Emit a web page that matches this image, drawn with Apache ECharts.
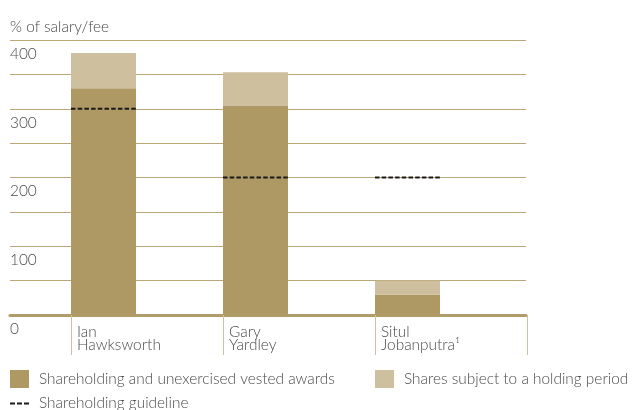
<!DOCTYPE html>
<html>
<head>
<meta charset="utf-8">
<script src="https://cdn.jsdelivr.net/npm/echarts@6/dist/echarts.min.js"></script>
<style>
  html, body { margin: 0; padding: 0; background: #ffffff; }
  #chart { width: 632px; height: 410px; }
</style>
</head>
<body>
<div id="chart"></div>
<script>
// Directors' shareholdings as a percentage of salary/fee
const directors = ['Ian\nHawksworth', 'Gary\nYardley', 'Situl\nJobanputra\u00b9'];
const heldAndVested = [330, 304, 30];   // shareholding and unexercised vested awards
const holdingPeriod = [51, 49, 20];     // shares subject to a holding period
const guideline = [300, 200, 200];      // shareholding guideline
const yTickLabels = [0, 100, 200, 300, 400];

const SERIES_DARK = 'Shareholding and unexercised vested awards';
const SERIES_LIGHT = 'Shares subject to a holding period';
const SERIES_GUIDE = 'Shareholding guideline';

const FONT = 'Lato';
const WEIGHT = 300;
const TEXT = '#4a4a4a';
const DARK = '#ae9965';
const LIGHT = '#cec09e';
const GRID_LINE = '#bba878';
const BAR_W = 65;

const chart = echarts.init(document.getElementById('chart'), null, { renderer: 'canvas' });

const legendText = { fontFamily: FONT, fontWeight: WEIGHT, fontSize: 15.4, color: TEXT, padding: [0, 0, 0, 5] };

chart.setOption({
  animation: false,
  backgroundColor: '#ffffff',
  grid: [
    { left: 10, top: 40, width: 516, height: 275 },   // gridlines and value labels
    { left: 71, top: 40, width: 456, height: 275 }    // bars
  ],
  xAxis: [
    {
      gridIndex: 0, type: 'category', data: [''],
      axisLine: { show: true, lineStyle: { color: '#b09c69', width: 3 } },
      axisTick: { show: false }, axisLabel: { show: false }
    },
    {
      gridIndex: 1, type: 'category', data: directors, boundaryGap: true,
      axisLine: { show: false },
      axisTick: { show: true, length: 40, lineStyle: { color: '#cdc1a0', width: 1 } },
      axisLabel: { show: false }
    }
  ],
  yAxis: [
    {
      gridIndex: 0, type: 'value', min: 0, max: 400, interval: 50,
      name: '% of salary/fee', nameLocation: 'end', nameGap: 5,
      nameTextStyle: { fontFamily: FONT, fontWeight: WEIGHT, fontSize: 15.4, color: TEXT, align: 'left', verticalAlign: 'bottom' },
      axisLine: { show: false }, axisTick: { show: false },
      splitLine: { show: true, lineStyle: { color: GRID_LINE, width: 1 } },
      axisLabel: {
        inside: true, margin: 0,
        fontFamily: FONT, fontWeight: WEIGHT, fontSize: 15.4, color: TEXT,
        verticalAlign: 'top', lineHeight: 16, padding: [6, 0, 0, 0],
        formatter: v => (yTickLabels.includes(v) ? String(v) : '')
      }
    },
    { gridIndex: 1, type: 'value', min: 0, max: 400, interval: 50, show: false }
  ],
  legend: [
    {
      data: [{ name: SERIES_DARK, icon: 'rect' }], left: 10, top: 370, padding: 0,
      itemWidth: 19, itemHeight: 18, selectedMode: false, textStyle: legendText
    },
    {
      data: [{ name: SERIES_LIGHT, icon: 'rect' }], left: 375, top: 370, padding: 0,
      itemWidth: 19, itemHeight: 18, selectedMode: false, textStyle: legendText
    },
    {
      data: [{ name: SERIES_GUIDE, icon: 'path://M0 0H5V2H0Z M7 0H12V2H7Z M14 0H19V2H14Z' }],
      left: 10, top: 396, padding: 0,
      itemWidth: 19, itemHeight: 2, selectedMode: false, textStyle: legendText
    }
  ],
  series: [
    {
      name: SERIES_DARK, type: 'bar', xAxisIndex: 1, yAxisIndex: 1,
      stack: 'held', barWidth: BAR_W, barGap: '0%',
      itemStyle: { color: DARK },
      data: heldAndVested,
      label: {
        show: true, position: [6, '100%'], offset: [0, 10],
        align: 'left', verticalAlign: 'top',
        fontFamily: FONT, fontWeight: WEIGHT, fontSize: 15.4, lineHeight: 13.5, color: TEXT,
        formatter: p => directors[p.dataIndex]
      }
    },
    {
      name: SERIES_LIGHT, type: 'bar', xAxisIndex: 1, yAxisIndex: 1,
      stack: 'held', barWidth: BAR_W, barGap: '0%',
      itemStyle: { color: LIGHT },
      data: holdingPeriod
    },
    {
      // empty companion column keeps each stacked bar at the left of its band
      name: 'spacer', type: 'bar', xAxisIndex: 1, yAxisIndex: 1,
      barWidth: 152 - BAR_W, barGap: '0%', silent: true,
      itemStyle: { color: 'rgba(0,0,0,0)' },
      data: heldAndVested.map(() => 0)
    },
    {
      name: SERIES_GUIDE, type: 'custom', xAxisIndex: 1, yAxisIndex: 1, z: 5,
      itemStyle: { color: '#1a1a1a' },
      data: guideline.map((v, i) => [i, v]),
      renderItem: function (params, api) {
        const p = api.coord([api.value(0), api.value(1)]);
        const band = api.size([1, 0])[0];
        const x0 = p[0] - band / 2;
        return {
          type: 'line',
          shape: { x1: x0, y1: p[1], x2: x0 + BAR_W, y2: p[1] },
          style: { stroke: '#1a1a1a', lineWidth: 2, lineDash: [4.5, 2.2] }
        };
      }
    }
  ]
});
</script>
</body>
</html>
